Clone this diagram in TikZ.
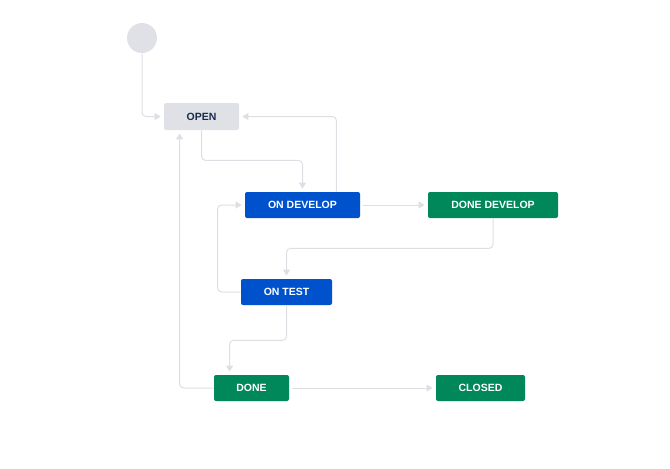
\documentclass[tikz,border=0pt]{standalone}
\usepackage{fontspec}
\setmainfont{Liberation Sans}
\usetikzlibrary{arrows.meta}

\definecolor{statgray}{HTML}{DFE1E6}
\definecolor{statblue}{HTML}{0052CC}
\definecolor{statgreen}{HTML}{00875A}
\definecolor{stattext}{HTML}{172B4D}
\definecolor{linegray}{HTML}{DCDFE4}

\tikzset{every picture/.style={line width=0.75pt}}
\tikzset{
  status/.style={rounded corners=2pt, minimum height=26pt, inner sep=0pt,
    text=white, font=\fontsize{10.5}{12}\selectfont\bfseries},
  trans/.style={draw=linegray, line width=1pt, rounded corners=4pt,
    -{Triangle[length=6pt,width=7pt,fill=linegray]}, shorten >=3pt}
}

\begin{document}
\begin{tikzpicture}[x=1pt,y=1pt,yscale=-1,xscale=1]
\useasboundingbox (0,0) rectangle (670,469);

%Shape: Circle [start]
\node[circle, fill=statgray, minimum size=30pt, inner sep=0pt] (start) at (142,38) {};

% Text Node
\node[status, fill=statgray, text=stattext, minimum width=75pt, minimum height=27pt] (open) at (201.5,116.5) {OPEN};
% Text Node
\node[status, fill=statblue, minimum width=115pt] (ondev) at (302.5,205) {ON DEVELOP};
% Text Node
\node[status, fill=statgreen, minimum width=130pt] (donedev) at (493,205) {DONE DEVELOP};
% Text Node
\node[status, fill=statblue, minimum width=91pt] (ontest) at (286.5,292) {ON TEST};
% Text Node
\node[status, fill=statgreen, minimum width=75pt] (done) at (251.5,388) {DONE};
% Text Node
\node[status, fill=statgreen, minimum width=89pt] (closed) at (480.5,388) {CLOSED};

%Connectors
\draw[trans] (start.south) |- (open.west);
\draw[trans] (open.south) -- ++(0,30) -| (ondev.north);
\draw[trans] ([xshift=-24pt]ondev.north east) |- (open.east);
\draw[trans, shorten <=3pt] (ondev.east) -- (donedev.west);
\draw[trans] (donedev.south) -- ++(0,30) -| (ontest.north);
\draw[trans] (ontest.west) -- ++(-23,0) |- (ondev.west);
\draw[trans] (ontest.south) -- ++(0,35) -| ([xshift=16pt]done.north west);
\draw[trans] (done.west) -| ([xshift=16pt]open.south west);
\draw[trans, shorten <=3pt] (done.east) -- (closed.west);

\end{tikzpicture}
\end{document}
